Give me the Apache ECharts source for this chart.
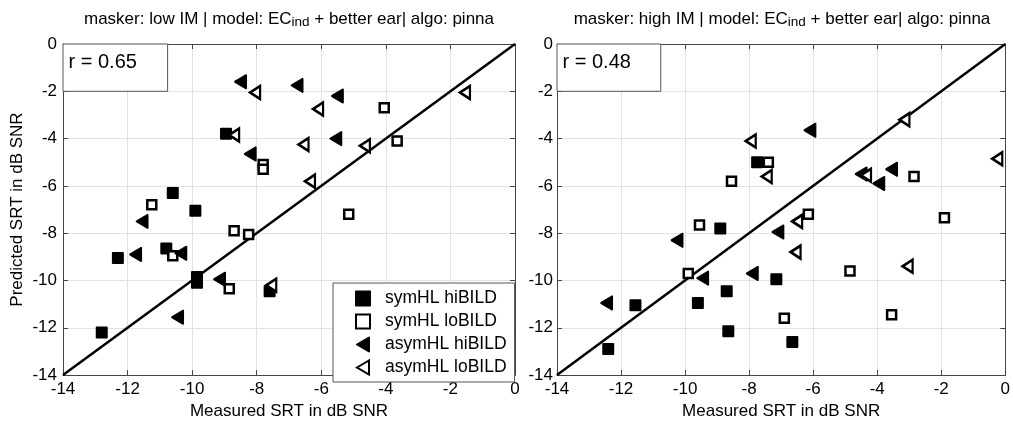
<!DOCTYPE html>
<html>
<head>
<meta charset="utf-8">
<script src="https://cdn.jsdelivr.net/npm/echarts@6/dist/echarts.min.js"></script>
<style>
  html, body { margin: 0; padding: 0; background: #fff; }
  #chartDiv { width: 1013px; height: 425px; }
</style>
</head>
<body>
<div id="chartDiv"></div>
<script>
    // measured / predicted SRT, low IM masker
    var lowSymHi = [[-12.8,-12.2],[-12.3,-9.05],[-10.6,-6.3],[-9.9,-7.05],[-10.8,-8.65],[-9.85,-9.85],[-9.85,-10.1],[-8.95,-3.8],[-7.6,-10.45]];
    var lowSymLo = [[-11.25,-6.8],[-10.6,-8.95],[-8.7,-7.9],[-8.25,-8.05],[-8.85,-10.35],[-7.8,-5.1],[-7.8,-5.3],[-4.05,-2.7],[-3.65,-4.1],[-5.15,-7.2]];
    var lowAsymHi = [[-8.5,-1.6],[-6.75,-1.75],[-5.5,-2.2],[-5.55,-4.0],[-8.2,-4.65],[-11.55,-7.5],[-11.75,-8.9],[-10.35,-8.85],[-9.15,-9.95],[-10.45,-11.55]];
    var lowAsymLo = [[-8.05,-2.05],[-8.7,-3.85],[-6.1,-2.75],[-6.55,-4.25],[-4.65,-4.3],[-6.35,-5.8],[-1.55,-2.05],[-7.55,-10.2]];

    // high IM masker
    var highSymHi = [[-12.4,-12.9],[-11.55,-11.05],[-9.6,-10.95],[-8.7,-10.45],[-8.65,-12.15],[-8.9,-7.8],[-7.15,-9.95],[-6.65,-12.6],[-7.75,-5.0]];
    var highSymLo = [[-9.55,-7.65],[-9.9,-9.7],[-8.55,-5.8],[-7.4,-5.0],[-6.15,-7.2],[-2.85,-5.6],[-1.9,-7.35],[-4.85,-9.6],[-3.55,-11.45],[-6.9,-11.6]];
    var highAsymHi = [[-12.45,-10.95],[-10.25,-8.3],[-9.45,-9.9],[-7.9,-9.7],[-7.1,-7.95],[-6.1,-3.65],[-4.5,-5.5],[-3.95,-5.9],[-3.55,-5.3]];
    var highAsymLo = [[-7.95,-4.1],[-7.45,-5.6],[-3.15,-3.2],[-4.35,-5.55],[-0.25,-4.85],[-6.5,-7.5],[-6.55,-8.8],[-3.05,-9.4]];

    var groupNames = ['symHL hiBILD', 'symHL loBILD', 'asymHL hiBILD', 'asymHL loBILD'];
    var rValues = ['r = 0.65', 'r = 0.48'];
    var maskers = ['low IM', 'high IM'];
    var axisRange = [-14, 0];
    var diagonal = [[-14, -14], [0, 0]];

    var FONT = 'Liberation Sans, Arial, sans-serif';
    var triPath = 'path://M0,7 L12,0 L12,14 Z';

    function markStyle(k) {
        if (k === 0) return { symbol: 'rect', symbolSize: 10, itemStyle: { color: '#000', borderColor: '#000', borderWidth: 2, borderJoin: 'round', opacity: 1 } };
        if (k === 1) return { symbol: 'rect', symbolSize: 9, itemStyle: { color: '#fff', borderColor: '#000', borderWidth: 2.5, opacity: 1 } };
        if (k === 2) return { symbol: triPath, symbolSize: [11, 13], itemStyle: { color: '#000', borderColor: '#000', borderWidth: 2, borderJoin: 'round', opacity: 1 } };
        return { symbol: triPath, symbolSize: [10, 13], itemStyle: { color: '#fff', borderColor: '#000', borderWidth: 2.5, opacity: 1 } };
    }

    var grids = [
        { left: 63, right: 498, top: 44, bottom: 43 },
        { left: 557, right: 5, top: 44, bottom: 43 }
    ];

    var xAxes = [], yAxes = [], series = [], titles = [];
    var panels = [[lowSymHi, lowSymLo, lowAsymHi, lowAsymLo], [highSymHi, highSymLo, highAsymHi, highAsymLo]];

    for (var g = 0; g < 2; g++) {
        var base = {
            type: 'value', gridIndex: g, min: axisRange[0], max: axisRange[1], interval: 2,
            axisLine: { show: true, onZero: false, lineStyle: { color: '#444', width: 1 } },
            axisTick: { show: true, inside: true, length: 5, lineStyle: { color: '#444' } },
            splitLine: { show: true, lineStyle: { color: '#e2e2e2', width: 1 } },
            axisLabel: { color: '#000', fontSize: 17, fontFamily: FONT, margin: 6 }
        };
        xAxes.push(Object.assign({}, base, {
            position: 'bottom',
            name: 'Measured SRT in dB SNR', nameLocation: 'middle', nameGap: 19,
            nameTextStyle: { color: '#000', fontSize: 17, fontFamily: FONT }
        }));
        xAxes.push(Object.assign({}, base, { position: 'top', axisLabel: { show: false }, splitLine: { show: false } }));
        var yMain = Object.assign({}, base, { position: 'left' });
        if (g === 0) {
            yMain.name = 'Predicted SRT in dB SNR';
            yMain.nameLocation = 'middle';
            yMain.nameGap = 37;
            yMain.nameTextStyle = { color: '#000', fontSize: 17, fontFamily: FONT };
        } else {
            yMain.axisLabel = Object.assign({}, base.axisLabel, { margin: 4 });
        }
        yAxes.push(yMain);
        yAxes.push(Object.assign({}, base, { position: 'right', axisLabel: { show: false }, splitLine: { show: false } }));

        series.push({
            type: 'line', xAxisIndex: g * 2, yAxisIndex: g * 2, data: diagonal,
            symbol: 'none', silent: true, z: 3,
            lineStyle: { color: '#000', width: 2.5 },
            markArea: {
                silent: true,
                itemStyle: { color: '#fff', borderColor: '#555', borderWidth: 1 },
                label: { show: true, position: [6, 9], color: '#000', fontSize: 20, fontFamily: FONT },
                data: [[{ name: rValues[g], coord: [-14, 0] }, { coord: [-10.76, -2] }]]
            }
        });
        for (var k = 0; k < 4; k++) {
            var st = markStyle(k);
            series.push({
                type: 'scatter', name: groupNames[k], xAxisIndex: g * 2, yAxisIndex: g * 2,
                data: panels[g][k], symbol: st.symbol, symbolSize: st.symbolSize,
                itemStyle: st.itemStyle, z: 4
            });
        }
        titles.push({
            text: 'masker: ' + maskers[g] + ' | model: EC{sub|ind} + better ear| algo: pinna',
            left: g === 0 ? 289 : 782, top: 10, padding: 0, textAlign: 'center',
            textStyle: {
                color: '#000', fontSize: 17, fontWeight: 'normal', fontFamily: FONT,
                lineHeight: 19, verticalAlign: 'top',
                rich: {
                    sub: { fontSize: 13.5, lineHeight: 14, padding: [10, 0, 0, 0], verticalAlign: 'bottom', fontFamily: FONT, color: '#000' }
                }
            }
        });
    }

    var chart = echarts.init(document.getElementById('chartDiv'), null, { renderer: 'canvas' });
    chart.setOption({
        backgroundColor: '#fff',
        animation: false,
        title: titles,
        grid: grids,
        xAxis: xAxes,
        yAxis: yAxes,
        legend: {
            data: groupNames, orient: 'vertical', left: 333, top: 283,
            padding: [5, 8, 4, 22], itemWidth: 14, itemHeight: 14, itemGap: 2,
            backgroundColor: '#fff', borderColor: '#555', borderWidth: 1, borderRadius: 0,
            textStyle: { color: '#000', fontSize: 17.5, lineHeight: 21, fontFamily: FONT, padding: [0, 0, 0, 10] }
        },
        series: series
    });
</script>
</body>
</html>
